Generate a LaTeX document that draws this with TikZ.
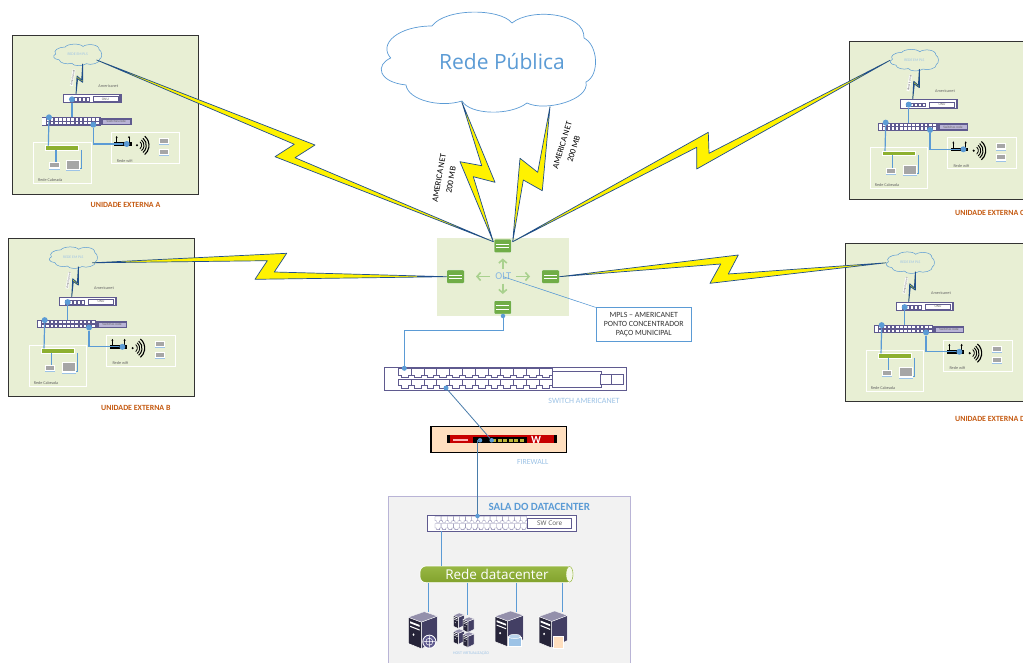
\documentclass[tikz,border=0pt]{standalone}
\usepackage{fontspec}
\setmainfont{Carlito}
\newfontfamily\osans{Open Sans}
\usetikzlibrary{arrows.meta}
\definecolor{fr}{HTML}{E8EFD4}
\definecolor{bl}{HTML}{5B9BD5}
\definecolor{lb}{HTML}{9DC3E6}
\definecolor{pu}{HTML}{5F5A8F}
\definecolor{lp}{HTML}{B9B4D6}
\definecolor{dk}{HTML}{1F4E8C}
\definecolor{gr}{HTML}{70AD47}
\definecolor{lg}{HTML}{A9D18E}
\definecolor{ol}{HTML}{8DB030}
\definecolor{or}{HTML}{C55A11}
\tikzset{
 ft/.style={font=\fontsize{#1}{#1}\selectfont},
 boltstyle/.style={fill=yellow,draw=dk,line width=.7pt,line join=round},
 link/.style={draw=bl,line width=1pt},
 ulink/.style={draw=bl,line width=1.2pt},
 dotn/.style={circle,fill=bl,inner sep=0pt,minimum size=#1},
 dotn/.default=5pt,
 whitebox/.style={draw=white,line width=.9pt},
 cloudline/.style={draw=bl,line width=.7pt,fill=white},
 grn/.style={fill=gr,draw=white,line width=.4pt,rounded corners=1pt,minimum width=17.5pt,minimum height=13.5pt,inner sep=0pt},
 olta/.style={draw=lg,line width=1.6pt,-{Straight Barb[length=3.5pt,width=8pt]}},
 lbl/.style={text=lb,ft=#1,inner sep=0pt},
 unitlbl/.style={text=or,ft=7.9,inner sep=0pt,anchor=west},
}
\newcommand\cloudP{(390.7,58) .. controls (378,44) and (398,26) .. (432,26) .. controls (445,8) and (500,8) .. (512,23) .. controls (530,8) and (585,12) .. (584,38) .. controls (598,45) and (600,75) .. (586,82) .. controls (590,100) and (545,112) .. (527,103) .. controls (510,116) and (470,115) .. (462,101) .. controls (440,108) and (408,100) .. (406,85) .. controls (378,82) and (375,65) .. (390.7,58) -- cycle}
\newcommand\lapico[4]{%
 \fill[white] (#1-#3,#2-#4) rectangle (#1+#3,#2+#4);
 \fill[black!35] (#1-#3+3,#2-#4+3) rectangle (#1+#3-3,#2+#4-7);
 \fill[lb] (#1-#3,#2+#4-3) rectangle (#1+#3,#2+#4);
}
\newcommand\unitblk[3]{%
\begin{scope}[xshift=#2pt-12.3pt,yshift=-#3pt+5.7pt,x=.33333pt,y=-.33333pt]
 \draw[fill=fr,draw=black!80,line width=.9pt] (37,17) rectangle (596,492);
 \coordinate (#1cr) at (290,90);
 \coordinate (#1cl) at (160,75);
 \begin{scope}[shift={(160,43)},xscale=.674,yscale=.646,shift={(-380,-13)}]
  \draw[draw=bl,line width=.5pt,fill=fr] \cloudP;
 \end{scope}
 \node[text=lb,ft=3.8,inner sep=0pt] (#1cloud) at (233,74) {REDE EM PLS};
 \node[text=black!60,ft=4.2,inner sep=0pt] (#1am) at (325,167) {Americanet};
 \node[fill=white,text=black!60,ft=3.2,inner sep=.3pt,rotate=80] (#1am2) at (218,143) {America net};
 \coordinate (#1sa) at (248,102);
 \coordinate (#1sb) at (228,193);
 \filldraw[fill=yellow,draw=dk,line width=.8pt,line join=round] (#1sa) -- (248,157) -- (233,146) -- (#1sb) -- (231,138) -- (245,150) -- cycle;
 \filldraw[fill=white,draw=pu,line width=.8pt] (190,193) rectangle (363,218);
 \fill[pu] (357,193) rectangle (363,218);
 \foreach \i in {0,...,4} \draw[pu,fill=white,line width=.5pt] ({210+\i*12},203) rectangle ({219+\i*12},213);
 \node[draw=pu,line width=.5pt,fill=white,minimum width=25pt,minimum height=5pt,inner sep=0pt,text=black!60,ft=3.6] (#1onu) at (316,207) {ONU};
 \fill[pu] (125,262) rectangle (302,287);
 \fill[white] (127,265) rectangle (137,284);
 \foreach \i in {0,...,12} {
  \fill[white] ({140+\i*12.4},265) rectangle ({148+\i*12.4},272);
  \fill[white] ({140+\i*12.4},276) rectangle ({148+\i*12.4},283);
 }
 \fill[pu] (302,264) rectangle (395,286);
 \node[fill=lp,draw=pu,line width=.4pt,minimum width=28pt,minimum height=5pt,inner sep=0pt,text=black!60,ft=3.4] (#1swl) at (349,275) {Switches rede};
 \draw[whitebox] (100,337) rectangle (273,460);
 \draw[whitebox] (333,307) rectangle (538,400);
 \node[text=black!60,ft=4.2,inner sep=0pt] (#1tc) at (151,450) {Rede Cabeada};
 \node[text=black!60,ft=4.2,inner sep=0pt] (#1tw) at (374,392) {Rede wifi};
 \filldraw[fill=ol,draw=white,line width=.5pt] (137,347) rectangle (235,360);
 \coordinate (#1bar) at (145,347);
 \coordinate (#1bar2) at (168,360);
 \coordinate (#1pc) at (168,402);
 \draw[ulink] (#1bar2) -- (#1pc);
 \draw[ulink] (245,360) -- (245,415) -- (235,415);
 \lapico{163}{408}{16}{11}
 \lapico{220}{406}{21}{17}
 \fill[black] (342,337) rectangle (395,348);
 \draw[black,line width=.6pt,-{Stealth[length=2pt,width=2pt]}] (350,337) -- (350,318);
 \draw[black,line width=.6pt,-{Stealth[length=2pt,width=2pt]}] (387,337) -- (387,318);
 \fill[black] (411,346) circle (3.5);
 \foreach \r/\w in {14/.8,21/.9,28/1,36/1.1} \draw[black,line width=\w pt] ({411+\r*.643},{346-\r*.766}) arc[start angle=-50,end angle=50,radius=\r];
 \lapico{492}{335}{15}{11}
 \lapico{492}{368}{15}{11}
 \node[dotn=6pt] (#1d1) at (216,208) {};
 \node[dotn=6pt] (#1d2) at (147,262) {};
 \node[dotn=6pt] (#1d3) at (280,284) {};
 \node[dotn=6pt] (#1d4) at (380,342) {};
 \coordinate (#1d2b) at (216,262);
 \draw[ulink] (#1d1) -- (#1d2b);
 \draw[ulink] (#1d2) -- (#1bar);
 \draw[ulink] (#1d3) |- (#1d4);
\end{scope}}
\newcommand\srvico[4]{%
\begin{scope}[xshift=#1pt,yshift=-#2pt,x=#3pt,y=-#4pt]
 \filldraw[fill=pu!70!black,draw=white,line width=.5pt] (.45,.28) -- (1,.12) -- (1,.8) -- (.45,1) -- cycle;
 \filldraw[fill=black!60!pu,draw=white,line width=.5pt] (0,.15) -- (.45,.28) -- (.45,1) -- (0,.86) -- cycle;
 \filldraw[fill=lp!80!black,draw=white,line width=.3pt] (0,.15) -- (.55,0) -- (1,.12) -- (.45,.28) -- cycle;
 \fill[white] (.06,.26) -- (.39,.36) -- (.39,.41) -- (.06,.31) -- cycle;
 \fill[white] (.06,.38) -- (.39,.48) -- (.39,.51) -- (.06,.41) -- cycle;
 \fill[white] (.18,.62) circle (.035);
\end{scope}}
\begin{document}
\begin{tikzpicture}[x=1pt,y=-1pt]
\useasboundingbox (0,0) rectangle (1023,663);
\clip (0,0) rectangle (1023,663);
\fill[white] (0,0) rectangle (1023,663);

\unitblk{A}{12.3}{35.7}
\unitblk{B}{8}{238.5}
\unitblk{C}{849}{41}
\unitblk{D}{845}{243.5}
\node[unitlbl] (la) at (90.5,205) {\textbf{UNIDADE EXTERNA A}};
\node[unitlbl] (lb) at (101,408) {\textbf{UNIDADE EXTERNA B}};
\node[unitlbl] (lc) at (955,213) {\textbf{UNIDADE EXTERNA C}};
\node[unitlbl] (ld) at (955,419) {\textbf{UNIDADE EXTERNA D}};

\fill[fr] (436.7,238.3) rectangle (569,315.7);
\node[grn] (gT) at (502.8,246) {};
\node[grn] (gL) at (455.5,276.7) {};
\node[grn] (gR) at (550.5,276.7) {};
\node[grn] (gB) at (502.8,307.4) {};
\foreach \n in {gT,gL,gR,gB} {
 \draw[white,line width=.7pt] ([xshift=-6.5pt,yshift=1.8pt]\n.center) -- ([xshift=6.5pt,yshift=1.8pt]\n.center);
 \draw[white,line width=.7pt] ([xshift=-6.5pt,yshift=-1.8pt]\n.center) -- ([xshift=6.5pt,yshift=-1.8pt]\n.center);
}
\node[text=lb!70!bl,ft=10.5,inner sep=0pt] (olt) at (503.3,276) {OLT};
\draw[olta] (502.8,269) -- (502.8,258.5);
\draw[olta] (502.8,283.5) -- (502.8,294);
\draw[olta] (490,276.5) -- (476,276.5);
\draw[olta] (516,276.5) -- (530,276.5);

\draw[cloudline] \cloudP;
\node[text=bl,inner sep=0pt,font=\osans\fontsize{21}{22}\selectfont] (pub) at (502,62) {Rede Pública};
\coordinate (p1) at (461.7,101.7);
\coordinate (p2) at (550,106.7);
\coordinate (tl) at (493.3,241.7);
\coordinate (tr) at (512.7,241.7);

\filldraw[boltstyle] (p1) -- (495,182.3) -- (473.3,176.7) -- (tl) -- (460,161.7) -- (481.7,165.7) -- cycle;
\filldraw[boltstyle] (p2) -- (542.3,190.7) -- (523.3,180) -- (tr) -- (520,158.3) -- (537.7,172.3) -- cycle;
\filldraw[boltstyle] (Acr) -- (315,145) -- (295,157.7) -- (tl) -- (275,156.7) -- (294.3,144.3) -- cycle;
\filldraw[boltstyle] (tr) -- (708.3,132.3) -- (709,153.3) -- (Ccl) -- (696.7,169) -- (696.7,147.3) -- cycle;
\filldraw[boltstyle] (Bcr) -- (286.7,253.3) -- (274.3,272) -- (gL.west) -- (255,279.3) -- (267.3,260.7) -- cycle;
\filldraw[boltstyle] (gR.east) -- (738.3,255) -- (728.3,274) -- (Dcl) -- (710,283.3) -- (720.7,264) -- cycle;

\node[rotate=80,align=center,font=\fontsize{8.6}{12}\selectfont,inner sep=0pt] (t1) at (445,179) {AMERICA NET\\200 MB};
\node[rotate=73,align=center,font=\fontsize{8.6}{12}\selectfont,inner sep=0pt] (t2) at (568,147) {AMERICA NET\\200 MB};

\node[draw=bl,fill=white,line width=.7pt,minimum width=95.5pt,minimum height=33.5pt,inner sep=0pt,align=center,text=black!80,font=\fontsize{7.9}{8.8}\selectfont] (mpls) at (643.8,324.5) {MPLS – AMERICANET\\PONTO CONCENTRADOR\\PAÇO MUNICIPAL};
\coordinate (oltp) at (503.3,276.7);
\draw[draw=bl,line width=.6pt] (oltp) -- (mpls.north west);

\draw[pu,line width=.7pt,fill=white] (384.7,367.3) rectangle (626.7,390.7);
\foreach \r/\yy in {0/368.5,1/379.2} \foreach \i in {0,...,11} {
 \pgfmathsetmacro\xa{398.3+\i*12.8}
 \draw[pu,fill=white,line width=.7pt] (\xa,\yy) -- ++(12.8,0) -- ++(0,6.5) -- ++(-3,0) -- ++(0,2.3) -- ++(-6.8,0) -- ++(0,-2.3) -- ++(-3,0) -- cycle;
}
\draw[pu,line width=.7pt] (552.3,371.7) rectangle (601.7,387.3);
\draw[pu,line width=.7pt,fill=white] (600,374) rectangle (623.3,384.3);
\draw[pu,line width=.7pt] (611.7,374) -- (611.7,384.3);
\node[lbl=8] (swl) at (584,400.7) {SWITCH AMERICANET};
\node[dotn=5pt] (s1) at (404.3,368.3) {};
\node[dotn=5pt] (s2) at (446,388) {};
\node[dotn=4.5pt] (gb) at (503,316) {};
\draw[link] (gb) -- (503,330) -- (404.3,330) -- (s1);

\draw[fill=orange!25!white,draw=black,line width=1.2pt] (431,426.7) rectangle (566.7,452.7);
\fill[red!78!black] (446.7,434.7) rectangle (556.7,443.3);
\fill[black] (446.7,434.7) rectangle (449.5,443.3);
\fill[black] (553.5,434.7) rectangle (556.7,443.3);
\fill[black] (473.3,437.3) rectangle (526.7,442.7);
\foreach \i in {0,...,5} \fill[yellow!70!black] ({492+\i*5.6},438.5) rectangle ({496+\i*5.6},441.5);
\fill[white!70!red] (453,439) rectangle (468,441);
\node[text=white,inner sep=0pt,font=\bfseries\fontsize{11}{11}\selectfont] (wg) at (536,439.5) {W};
\node[lbl=7.8] (fwl) at (532.7,462.3) {FIREWALL};

\draw[fill=black!5,draw=lp,line width=1pt] (388.3,496) rectangle (630,680);
\node[text=bl,inner sep=0pt,font=\bfseries\fontsize{11}{11}\selectfont] (room) at (539.3,506.7) {SALA DO DATACENTER};

\node[dotn=4.5pt] (f1) at (491.7,440.3) {};
\node[dotn=4.5pt] (f2) at (480,440.3) {};
\coordinate (c1) at (477.5,516);
\draw[draw=bl!80!black,line width=.8pt] (s2) -- (f1);
\draw[draw=bl!80!black,line width=.8pt] (f2.center) -- (f2.center -| c1) -- (c1);

\draw[pu,line width=.7pt,fill=white] (427.3,515) rectangle (576.7,531);
\foreach \r/\yy in {0/516.5,1/523.8} \foreach \i in {0,...,14} {
 \pgfmathsetmacro\xa{435+\i*6.12}
 \draw[pu!75!white,fill=white,line width=.35pt] (\xa,\yy) -- ++(6.12,0) -- ++(0,4.2) -- ++(-1.5,0) -- ++(0,1.6) -- ++(-3.1,0) -- ++(0,-1.6) -- ++(-1.5,0) -- cycle;
}
\node[draw=pu,fill=white,line width=.6pt,minimum width=44pt,minimum height=10pt,inner sep=0pt,text=black!65,font=\osans\fontsize{6.4}{7}\selectfont] (core) at (549.7,523.3) {SW Core};
\node[dotn=4.5pt] (c2) at (477.5,516) {};

\draw[draw=white,line width=.7pt,rounded corners=6pt,top color=ol!90!white,bottom color=ol!92!black] (420,566) rectangle (573.3,582.7);
\draw[draw=ol,line width=.4pt,fill=white!90!ol] (569.5,574.3) ellipse (3.5pt and 7.8pt);
\node[text=white,inner sep=0pt,font=\osans\fontsize{13.5}{14}\selectfont] (net) at (497,574) {Rede datacenter};
\coordinate (coreb) at (441,531);
\coordinate (pipet) at (441,566);
\draw[link] (coreb) -- (pipet);

\srvico{408.3}{611.7}{29}{37}
\srvico{495}{611}{28.3}{35.7}
\srvico{539}{611}{28.3}{37}
\srvico{453.3}{613}{11}{15.5}
\srvico{463}{617}{11}{15.5}
\srvico{453.3}{629}{11}{15.5}
\srvico{463}{632}{11}{15.5}
\fill[white] (429.3,641.7) circle (7pt);
\fill[pu] (429.3,641.7) circle (6pt);
\draw[white,line width=.5pt] (429.3,641.7) circle (3.5pt) (423.5,641.7) -- (435,641.7) (429.3,636) -- (429.3,647.5);
\filldraw[fill=lb,draw=white,line width=.4pt] (508.5,637) rectangle (521,646);
\filldraw[fill=lb!70!white,draw=white,line width=.4pt] (514.7,636.5) ellipse (6.2pt and 2.2pt);
\filldraw[fill=orange!25!white,draw=white,line width=.4pt] (553,636) rectangle (563,648);

\foreach \n/\x/\y in {1/428.3/611.7,2/467.7/615,3/516.3/611.7,4/562.7/611.7} {
 \coordinate (up\n) at (\x,582.7);
 \coordinate (dn\n) at (\x,\y);
 \draw[link] (up\n) -- (dn\n);
}
\node[lbl=4] (host) at (471,653.7) {HOST VIRTUALIZAÇÃO};
\end{tikzpicture}
\end{document}
